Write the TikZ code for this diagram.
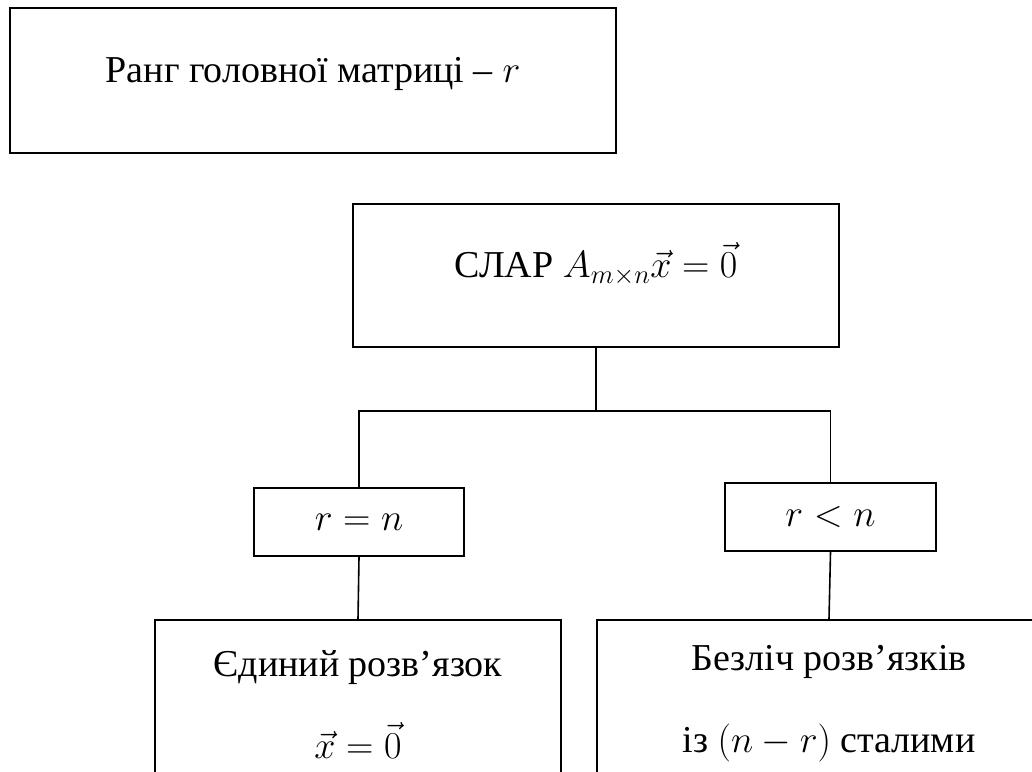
\RequirePackage{fix-cm}
\documentclass[tikz,border=0pt]{standalone}
\usepackage{amsmath}
\usepackage{fontspec}
\setmainfont{Liberation Serif}
\usepackage{tikz}
\usetikzlibrary{positioning,calc}
\tikzset{
  rankbox/.style={draw, rectangle, line width=2pt, inner sep=0pt,
    font=\fontsize{38}{82}\selectfont},
  casebox/.style={rankbox, minimum height=68pt},
  resultbox/.style={rankbox, align=center, minimum height=168pt},
  link/.style={line width=1.6pt}
}

\begin{document}
\begin{tikzpicture}[x=1pt, y=-1pt]
  \useasboundingbox (0,0) rectangle (1032,771);
  \clip (0,0) rectangle (1032,771);
  \node[rankbox, minimum width=606pt, minimum height=145pt, text height=27pt, text depth=24pt] (rank) at (313,80.5) {Ранг головної матриці -- $r$};
  \node[rankbox, minimum width=486pt, minimum height=143pt, text height=30pt, text depth=26pt] (slar) at (596,275.5) {СЛАР $A_{m\times n}\vec{x}=\vec{0}$};
  \node[casebox, minimum width=210pt] (equal) at (359,522) {$r=n$};
  \node[casebox, minimum width=211pt] (less) at (830.5,517) {$r<n$};
  \node[resultbox, minimum width=406pt] (unique) at (358,704) {Єдиний розв’язок\\ $\vec{x}=\vec{0}$};
  \node[resultbox, minimum width=464pt] (many) at (829,704) {Безліч розв’язків\\ із $(n-r)$ сталими};
  \coordinate (split) at (slar.south |- 0,411);
  \draw[link] (slar.south) -- (split);
  \draw[link] (equal.north) |- (split) -| (less.north);
  \draw[link] (equal.south) -- (unique.north);
  \draw[link] (less.south) -- (many.north);
\end{tikzpicture}
\end{document}
